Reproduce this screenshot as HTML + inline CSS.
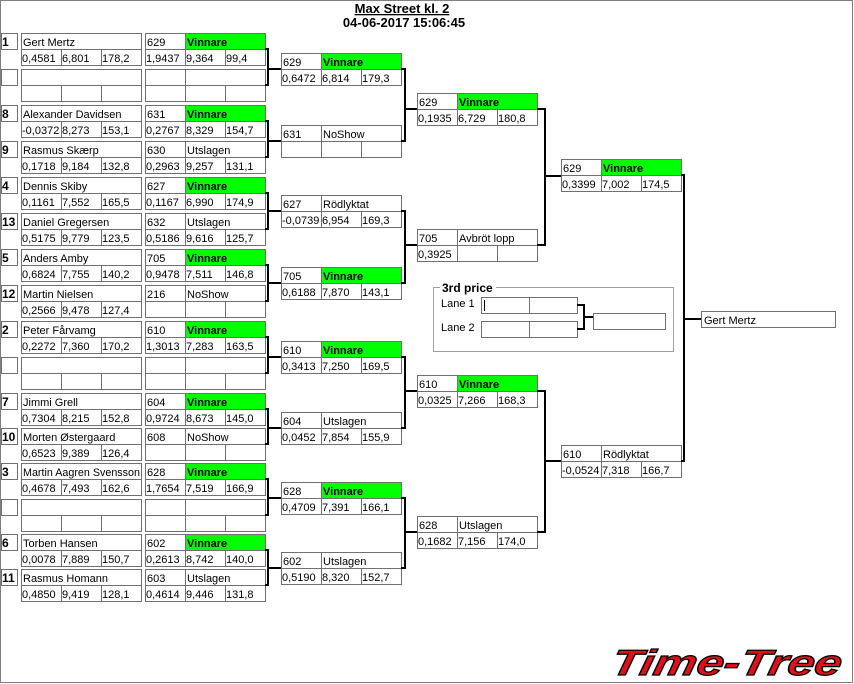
<!DOCTYPE html>
<html><head><meta charset="utf-8"><style>
html,body{margin:0;padding:0;background:#fff;}
svg{display:block;}
text{font-family:"Liberation Sans",Arial,sans-serif;font-size:11px;fill:#000;}
.b{font-weight:bold;}
rect.c{fill:#fff;stroke:#707070;stroke-width:1;}
rect.g{fill:#00ff00;stroke:#707070;stroke-width:1;}
path.l{fill:none;stroke:#000;stroke-width:2;}
</style></head><body>
<svg width="854" height="684" viewBox="0 0 854 684" xmlns="http://www.w3.org/2000/svg">
<defs>
<g id="bx"><rect class="c" x="0.5" y="0.5" width="40" height="16"/><rect class="c" x="40.5" y="0.5" width="80" height="16"/><rect class="c" x="0.5" y="16.5" width="40" height="16"/><rect class="c" x="40.5" y="16.5" width="40" height="16"/><rect class="c" x="80.5" y="16.5" width="40" height="16"/></g>
<g id="bxg"><rect class="c" x="0.5" y="0.5" width="40" height="16"/><rect class="g" x="40.5" y="0.5" width="80" height="16"/><rect class="c" x="0.5" y="16.5" width="40" height="16"/><rect class="c" x="40.5" y="16.5" width="40" height="16"/><rect class="c" x="80.5" y="16.5" width="40" height="16"/></g>
<g id="nm"><rect class="c" x="-19.5" y="0.5" width="16" height="16"/><rect class="c" x="0.5" y="0.5" width="120" height="16"/><rect class="c" x="0.5" y="16.5" width="40" height="16"/><rect class="c" x="40.5" y="16.5" width="40" height="16"/><rect class="c" x="80.5" y="16.5" width="40" height="16"/></g>
</defs>
<rect x="0.5" y="0.5" width="852" height="682" fill="#fff" stroke="#808080"/>
<text class="b" x="402" y="13" text-anchor="middle" text-decoration="underline" style="font-size:13px">Max Street kl. 2</text>
<text class="b" x="404" y="27" text-anchor="middle" style="font-size:13px">04-06-2017 15:06:45</text>

<g transform="translate(21,33)"><use href="#nm"/><text class="b" x="-19" y="13" style="font-size:12px">1</text><text x="2" y="13">Gert Mertz</text><text x="1" y="29">0,4581</text><text x="41" y="29">6,801</text><text x="81" y="29">178,2</text></g>
<g transform="translate(145,33)"><use href="#bxg"/><text x="2" y="13">629</text><text class="b" x="42" y="13">Vinnare</text><text x="1" y="29">1,9437</text><text x="41" y="29">9,364</text><text x="81" y="29">99,4</text></g>
<g transform="translate(21,69)"><use href="#nm"/></g>
<g transform="translate(145,69)"><use href="#bx"/></g>

<g transform="translate(21,105)"><use href="#nm"/><text class="b" x="-19" y="13" style="font-size:12px">8</text><text x="2" y="13">Alexander Davidsen</text><text x="1" y="29">-0,0372</text><text x="41" y="29">8,273</text><text x="81" y="29">153,1</text></g>
<g transform="translate(145,105)"><use href="#bxg"/><text x="2" y="13">631</text><text class="b" x="42" y="13">Vinnare</text><text x="1" y="29">0,2767</text><text x="41" y="29">8,329</text><text x="81" y="29">154,7</text></g>
<g transform="translate(21,141)"><use href="#nm"/><text class="b" x="-19" y="13" style="font-size:12px">9</text><text x="2" y="13">Rasmus Skærp</text><text x="1" y="29">0,1718</text><text x="41" y="29">9,184</text><text x="81" y="29">132,8</text></g>
<g transform="translate(145,141)"><use href="#bx"/><text x="2" y="13">630</text><text x="42" y="13">Utslagen</text><text x="1" y="29">0,2963</text><text x="41" y="29">9,257</text><text x="81" y="29">131,1</text></g>

<g transform="translate(21,177)"><use href="#nm"/><text class="b" x="-19" y="13" style="font-size:12px">4</text><text x="2" y="13">Dennis Skiby</text><text x="1" y="29">0,1161</text><text x="41" y="29">7,552</text><text x="81" y="29">165,5</text></g>
<g transform="translate(145,177)"><use href="#bxg"/><text x="2" y="13">627</text><text class="b" x="42" y="13">Vinnare</text><text x="1" y="29">0,1167</text><text x="41" y="29">6,990</text><text x="81" y="29">174,9</text></g>
<g transform="translate(21,213)"><use href="#nm"/><text class="b" x="-19" y="13" style="font-size:12px">13</text><text x="2" y="13">Daniel Gregersen</text><text x="1" y="29">0,5175</text><text x="41" y="29">9,779</text><text x="81" y="29">123,5</text></g>
<g transform="translate(145,213)"><use href="#bx"/><text x="2" y="13">632</text><text x="42" y="13">Utslagen</text><text x="1" y="29">0,5186</text><text x="41" y="29">9,616</text><text x="81" y="29">125,7</text></g>

<g transform="translate(21,249)"><use href="#nm"/><text class="b" x="-19" y="13" style="font-size:12px">5</text><text x="2" y="13">Anders Amby</text><text x="1" y="29">0,6824</text><text x="41" y="29">7,755</text><text x="81" y="29">140,2</text></g>
<g transform="translate(145,249)"><use href="#bxg"/><text x="2" y="13">705</text><text class="b" x="42" y="13">Vinnare</text><text x="1" y="29">0,9478</text><text x="41" y="29">7,511</text><text x="81" y="29">146,8</text></g>
<g transform="translate(21,285)"><use href="#nm"/><text class="b" x="-19" y="13" style="font-size:12px">12</text><text x="2" y="13">Martin Nielsen</text><text x="1" y="29">0,2566</text><text x="41" y="29">9,478</text><text x="81" y="29">127,4</text></g>
<g transform="translate(145,285)"><use href="#bx"/><text x="2" y="13">216</text><text x="42" y="13">NoShow</text></g>

<g transform="translate(21,321)"><use href="#nm"/><text class="b" x="-19" y="13" style="font-size:12px">2</text><text x="2" y="13">Peter Fårvamg</text><text x="1" y="29">0,2272</text><text x="41" y="29">7,360</text><text x="81" y="29">170,2</text></g>
<g transform="translate(145,321)"><use href="#bxg"/><text x="2" y="13">610</text><text class="b" x="42" y="13">Vinnare</text><text x="1" y="29">1,3013</text><text x="41" y="29">7,283</text><text x="81" y="29">163,5</text></g>
<g transform="translate(21,357)"><use href="#nm"/></g>
<g transform="translate(145,357)"><use href="#bx"/></g>

<g transform="translate(21,393)"><use href="#nm"/><text class="b" x="-19" y="13" style="font-size:12px">7</text><text x="2" y="13">Jimmi Grell</text><text x="1" y="29">0,7304</text><text x="41" y="29">8,215</text><text x="81" y="29">152,8</text></g>
<g transform="translate(145,393)"><use href="#bxg"/><text x="2" y="13">604</text><text class="b" x="42" y="13">Vinnare</text><text x="1" y="29">0,9724</text><text x="41" y="29">8,673</text><text x="81" y="29">145,0</text></g>
<g transform="translate(21,428)"><use href="#nm"/><text class="b" x="-19" y="13" style="font-size:12px">10</text><text x="2" y="13">Morten Østergaard</text><text x="1" y="29">0,6523</text><text x="41" y="29">9,389</text><text x="81" y="29">126,4</text></g>
<g transform="translate(145,428)"><use href="#bx"/><text x="2" y="13">608</text><text x="42" y="13">NoShow</text></g>

<g transform="translate(21,463)"><use href="#nm"/><text class="b" x="-19" y="13" style="font-size:12px">3</text><text x="2" y="13" textLength="117" lengthAdjust="spacingAndGlyphs">Martin Aagren Svensson</text><text x="1" y="29">0,4678</text><text x="41" y="29">7,493</text><text x="81" y="29">162,6</text></g>
<g transform="translate(145,463)"><use href="#bxg"/><text x="2" y="13">628</text><text class="b" x="42" y="13">Vinnare</text><text x="1" y="29">1,7654</text><text x="41" y="29">7,519</text><text x="81" y="29">166,9</text></g>
<g transform="translate(21,499)"><use href="#nm"/></g>
<g transform="translate(145,499)"><use href="#bx"/></g>

<g transform="translate(21,534)"><use href="#nm"/><text class="b" x="-19" y="13" style="font-size:12px">6</text><text x="2" y="13">Torben Hansen</text><text x="1" y="29">0,0078</text><text x="41" y="29">7,889</text><text x="81" y="29">150,7</text></g>
<g transform="translate(145,534)"><use href="#bxg"/><text x="2" y="13">602</text><text class="b" x="42" y="13">Vinnare</text><text x="1" y="29">0,2613</text><text x="41" y="29">8,742</text><text x="81" y="29">140,0</text></g>
<g transform="translate(21,569)"><use href="#nm"/><text class="b" x="-19" y="13" style="font-size:12px">11</text><text x="2" y="13">Rasmus Homann</text><text x="1" y="29">0,4850</text><text x="41" y="29">9,419</text><text x="81" y="29">128,1</text></g>
<g transform="translate(145,569)"><use href="#bx"/><text x="2" y="13">603</text><text x="42" y="13">Utslagen</text><text x="1" y="29">0,4614</text><text x="41" y="29">9,446</text><text x="81" y="29">131,8</text></g>

<path class="l" d="M265,49H268V85H265M268,69H281"/>
<path class="l" d="M265,121H268V157H265M268,141H281"/>
<path class="l" d="M265,193H268V229H265M268,211H281"/>
<path class="l" d="M265,265H268V301H265M268,283H281"/>
<path class="l" d="M265,337H268V373H265M268,357H281"/>
<path class="l" d="M265,409H268V444H265M268,428H281"/>
<path class="l" d="M265,479H268V515H265M268,498H281"/>
<path class="l" d="M265,550H268V585H265M268,568H281"/>

<g transform="translate(281,53)"><use href="#bxg"/><text x="2" y="13">629</text><text class="b" x="42" y="13">Vinnare</text><text x="1" y="29">0,6472</text><text x="41" y="29">6,814</text><text x="81" y="29">179,3</text></g>
<g transform="translate(281,125)"><use href="#bx"/><text x="2" y="13">631</text><text x="42" y="13">NoShow</text></g>
<g transform="translate(281,195)"><use href="#bx"/><text x="2" y="13">627</text><text x="42" y="13">Rödlyktat</text><text x="1" y="29">-0,0739</text><text x="41" y="29">6,954</text><text x="81" y="29">169,3</text></g>
<g transform="translate(281,267)"><use href="#bxg"/><text x="2" y="13">705</text><text class="b" x="42" y="13">Vinnare</text><text x="1" y="29">0,6188</text><text x="41" y="29">7,870</text><text x="81" y="29">143,1</text></g>
<g transform="translate(281,341)"><use href="#bxg"/><text x="2" y="13">610</text><text class="b" x="42" y="13">Vinnare</text><text x="1" y="29">0,3413</text><text x="41" y="29">7,250</text><text x="81" y="29">169,5</text></g>
<g transform="translate(281,412)"><use href="#bx"/><text x="2" y="13">604</text><text x="42" y="13">Utslagen</text><text x="1" y="29">0,0452</text><text x="41" y="29">7,854</text><text x="81" y="29">155,9</text></g>
<g transform="translate(281,482)"><use href="#bxg"/><text x="2" y="13">628</text><text class="b" x="42" y="13">Vinnare</text><text x="1" y="29">0,4709</text><text x="41" y="29">7,391</text><text x="81" y="29">166,1</text></g>
<g transform="translate(281,552)"><use href="#bx"/><text x="2" y="13">602</text><text x="42" y="13">Utslagen</text><text x="1" y="29">0,5190</text><text x="41" y="29">8,320</text><text x="81" y="29">152,7</text></g>

<path class="l" d="M401,69H405V141H401M405,109H417"/>
<path class="l" d="M401,211H405V283H401M405,245H417"/>
<path class="l" d="M401,357H405V428H401M405,391H417"/>
<path class="l" d="M401,498H405V568H401M405,532H417"/>

<g transform="translate(417,93)"><use href="#bxg"/><text x="2" y="13">629</text><text class="b" x="42" y="13">Vinnare</text><text x="1" y="29">0,1935</text><text x="41" y="29">6,729</text><text x="81" y="29">180,8</text></g>
<g transform="translate(417,229)"><use href="#bx"/><text x="2" y="13">705</text><text x="42" y="13">Avbröt lopp</text><text x="1" y="29">0,3925</text></g>
<g transform="translate(417,375)"><use href="#bxg"/><text x="2" y="13">610</text><text class="b" x="42" y="13">Vinnare</text><text x="1" y="29">0,0325</text><text x="41" y="29">7,266</text><text x="81" y="29">168,3</text></g>
<g transform="translate(417,516)"><use href="#bx"/><text x="2" y="13">628</text><text x="42" y="13">Utslagen</text><text x="1" y="29">0,1682</text><text x="41" y="29">7,156</text><text x="81" y="29">174,0</text></g>

<path class="l" d="M537,109H545V245H537M545,176H561"/>
<path class="l" d="M537,391H545V532H537M545,461H561"/>

<g transform="translate(561,159)"><use href="#bxg"/><text x="2" y="13">629</text><text class="b" x="42" y="13">Vinnare</text><text x="1" y="29">0,3399</text><text x="41" y="29">7,002</text><text x="81" y="29">174,5</text></g>
<g transform="translate(561,445)"><use href="#bx"/><text x="2" y="13">610</text><text x="42" y="13">Rödlyktat</text><text x="1" y="29">-0,0524</text><text x="41" y="29">7,318</text><text x="81" y="29">166,7</text></g>

<path class="l" d="M681,175H684V461H681M684,319H701"/>
<rect class="c" x="701.5" y="311.5" width="134" height="16"/>
<text x="704" y="324">Gert Mertz</text>

<rect x="433.5" y="287.5" width="240" height="64" fill="none" stroke="#a0a0a0"/>
<rect x="440" y="281" width="56" height="12" fill="#fff"/>
<text class="b" x="442" y="292" style="font-size:12px">3rd price</text>
<text x="441" y="307">Lane 1</text>
<text x="441" y="331">Lane 2</text>
<rect class="c" x="481.5" y="297.5" width="48" height="16"/><rect class="c" x="529.5" y="297.5" width="48" height="16"/>
<rect class="c" x="481.5" y="321.5" width="48" height="16"/><rect class="c" x="529.5" y="321.5" width="48" height="16"/>
<line x1="484.5" y1="300" x2="484.5" y2="311" stroke="#000"/>
<path class="l" d="M577,305H584V329H577M584,317H593"/>
<rect class="c" x="593.5" y="313.5" width="72" height="16"/>

<text x="612" y="675" textLength="230" lengthAdjust="spacingAndGlyphs" transform="skewX(-12) translate(141,0)" style="font-size:36px;font-weight:bold;font-style:italic;fill:#e0101a;stroke:#000;stroke-width:1.2;">Time-Tree</text>
</svg>
</body></html>
